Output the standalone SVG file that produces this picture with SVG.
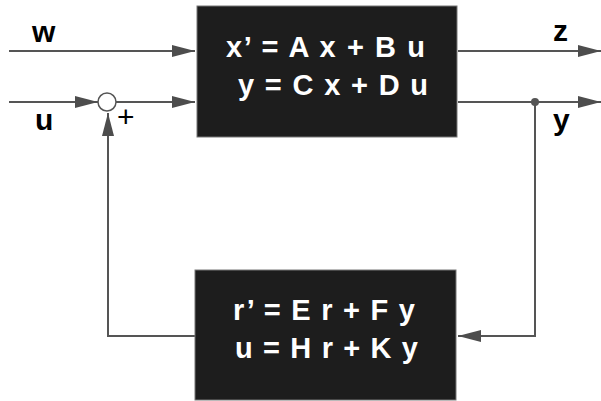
<svg xmlns="http://www.w3.org/2000/svg" width="601" height="401" viewBox="0 0 601 401">
<style>
.box{fill:#1d1d1d;stroke:#777;stroke-width:1}
.eq{font-family:"Liberation Sans",Arial,sans-serif;font-weight:bold;font-size:29px;fill:#fff}
.lbl{font-family:"Liberation Sans",Arial,sans-serif;font-weight:bold;font-size:30px;fill:#000}
.ln{fill:none;stroke:#555;stroke-width:2}
</style>
<defs>
<marker id="arr" markerUnits="userSpaceOnUse" markerWidth="23" markerHeight="12" refX="23" refY="6" orient="auto">
<path d="M0,0 L23,6 L0,12 z" fill="#4d4d4d"/>
</marker>
</defs>
<rect width="601" height="401" fill="#fff"/>
<g id="connectors">
<line class="ln" x1="9" y1="51" x2="195" y2="51" marker-end="url(#arr)"/>
<line class="ln" x1="9" y1="102" x2="98" y2="102" marker-end="url(#arr)"/>
<line class="ln" x1="116" y1="102" x2="195" y2="102" marker-end="url(#arr)"/>
<line class="ln" x1="458" y1="51" x2="601" y2="51" marker-end="url(#arr)"/>
<line class="ln" x1="458" y1="102" x2="601" y2="102" marker-end="url(#arr)"/>
<polyline class="ln" points="535,102 535,336 458,336" marker-end="url(#arr)"/>
<polyline class="ln" points="195,336 108,336 108,113" marker-end="url(#arr)"/>
<circle cx="535" cy="102" r="4" fill="#555"/>
</g>
<g id="sum">
<circle cx="107" cy="102" r="9" fill="#fff" stroke="#555" stroke-width="1.5"/>
<text x="117" y="127" font-family="Liberation Sans, Arial, sans-serif" font-size="30" fill="#000">+</text>
</g>
<g id="plant">
<rect class="box" x="197" y="6" width="260" height="131"/>
<text class="eq" x="226" y="57" textLength="199" lengthAdjust="spacing">x’ = A x + B u</text>
<text class="eq" x="238" y="95" textLength="190" lengthAdjust="spacing">y = C x + D u</text>
</g>
<g id="controller">
<rect class="box" x="195" y="270" width="261" height="130"/>
<text class="eq" x="233" y="320" textLength="182" lengthAdjust="spacing">r’ = E r + F y</text>
<text class="eq" x="235" y="358" textLength="183" lengthAdjust="spacing">u = H r + K y</text>
</g>
<g id="labels">
<text class="lbl" x="32" y="42">w</text>
<text class="lbl" x="35" y="130">u</text>
<text class="lbl" x="553" y="41">z</text>
<text class="lbl" x="553" y="130">y</text>
</g>
</svg>
